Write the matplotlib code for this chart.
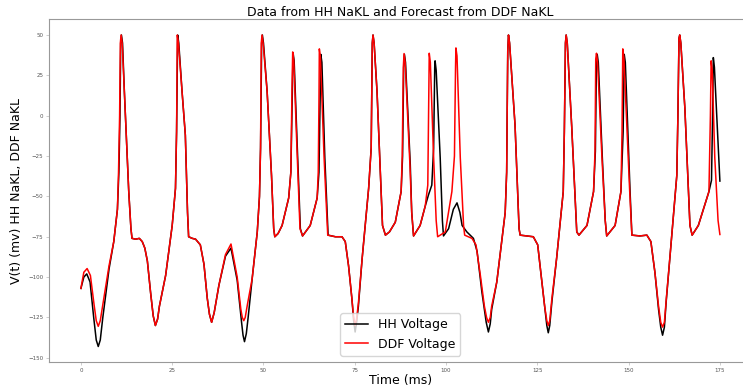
import matplotlib
matplotlib.use('Agg')
import matplotlib.pyplot as plt

# HH NaKL voltage (black)
hh_t = [0, 0.8, 1.6, 2.5, 3.5, 4.2, 4.75, 5.3, 6, 7.7, 9.0, 10.0, 10.4, 10.7, 10.9, 11.1, 11.4, 11.9,
        13.1, 13.7, 14.0, 15.0, 16.0, 16.8, 17.5, 18.2, 19.1, 19.8, 20.4, 21.0, 21.5, 23.2, 25.0, 25.9,
        26.2, 26.5, 26.8, 27.7, 28.6, 29.2, 29.5, 30.5, 31.4, 32.7, 33.7, 34.6, 35.2, 35.8, 36.5, 37.8,
        39.6, 41.1, 42.8, 44.0, 44.4, 44.8, 45.3, 45.8, 46.9, 48.3, 48.9, 49.2, 49.5, 49.7, 50.0, 51.0,
        52.2, 52.8, 53.1, 54.0, 55.1, 56.9, 57.5, 57.9, 58.1, 58.4, 59.2, 60.1, 60.7, 62.8,
        64.7, 65.2, 65.5, 65.7, 66.0, 66.8, 67.7, 69.7, 71.5, 72.4, 73.3, 74.2, 74.7, 75.1, 75.5, 76.0,
        77.0, 78.8, 79.5, 79.8, 80.0, 80.3, 81.1, 82.6, 83.4, 84.5, 86.1, 87.7, 88.1, 88.4,
        88.6, 88.9, 90.2, 90.6, 91.1, 92.9, 94.3, 95.2, 96.1, 96.6, 96.9, 97.0, 97.3, 98.4,
        99.0, 99.3, 100.7, 102.0, 103.0, 103.8, 104.4, 105.7, 107.5, 108.5, 109.8, 111.0, 111.6, 112.1,
        112.5, 113.9, 116.2, 116.6, 116.9, 117.1, 117.4, 118.9, 120.0, 120.3, 122.1, 123.9,
        125.1, 126.0, 127.0, 127.6, 128.0, 128.4, 129.0, 130.3, 132.1, 132.4, 132.7, 132.9, 133.2, 134.4,
        135.8, 136.4, 138.6, 140.4, 140.9, 141.2, 141.4, 141.7, 142.8, 143.6, 144.0, 146.3,
        147.9, 148.5, 148.8, 149.1, 150.4, 150.9, 153.1, 155.0, 156.1, 157.2, 158.2, 158.8, 159.3, 159.8,
        160.3, 161.3, 163.2, 163.5, 163.8, 164.0, 164.3, 165.4, 166.8, 167.4, 169.1, 170.9,
        172.0, 172.7, 173.0, 173.2, 173.5, 175.0]
hh_v = [-107, -100, -98, -103, -125, -139, -143, -139, -125, -95, -78, -58, -35, 0, 45, 50, 45, 15,
        -47, -70, -76, -76.5, -76, -78, -82, -90, -110, -124, -130, -126, -118, -99, -68, -45,
        -10, 50, 45, 15, -12, -60, -75, -76, -76.5, -80, -92, -113, -123, -128, -122, -105,
        -87, -82, -102, -128, -136, -140, -135, -125, -101, -72, -50, -20, 45, 50, 45, 15,
        -37, -70, -75, -73, -68, -51, -35, 15, 39, 34, -16, -70, -74.5, -68,
        -51, -35, 10, 38, 33, -26, -74, -75, -75, -78, -93, -113, -127, -134, -128, -118,
        -89, -45, -20, 45, 50, 45, 15, -68, -74, -72, -66, -47, -25, 30,
        38, 33, -30, -60, -74.5, -68, -56, -49, -43, -20, 30, 34, 28, -26,
        -65, -74.5, -70, -58, -54, -60, -68, -72, -76, -84, -109, -128, -134, -129,
        -120, -103, -60, -35, 40, 50, 45, -6, -70, -74, -74.5, -75,
        -80, -98, -118, -130, -134.5, -130, -115, -88, -47, -10, 45, 50, 45, -6,
        -72, -74, -68, -47, -22, 35, 38, 33, -26, -65, -74.5, -68,
        -47, -10, 38, 33, -47, -74, -74.5, -74, -78, -97, -120, -131, -136, -131,
        -115, -88, -37, 0, 48, 50, 45, 5, -68, -74, -68, -55,
        -47, -40, 0, 36, 30, -40.5]

# DDF NaKL forecast (red)
ddf_t = [0, 0.8, 1.7, 2.6, 3.6, 4.2, 4.75, 5.3, 6, 7.7, 9.0, 10.0, 10.3, 10.6, 10.8, 11.0, 11.3, 11.9,
         13.1, 13.7, 14.0, 15.0, 16.0, 16.8, 17.5, 18.2, 19.1, 19.8, 20.4, 21.0, 21.5, 23.2, 25.0, 25.9,
         26.2, 26.4, 26.7, 27.7, 28.6, 29.2, 29.5, 30.5, 31.4, 32.7, 33.7, 34.6, 35.2, 35.8, 36.5, 37.8,
         39.6, 41.1, 42.8, 43.8, 44.2, 44.6, 45.0, 45.6, 46.9, 48.3, 48.9, 49.2, 49.4, 49.6, 49.9, 51.0,
         52.2, 52.8, 53.1, 54.0, 55.1, 56.9, 57.5, 57.8, 58.0, 58.3, 59.1, 60.0, 60.7, 62.8,
         64.7, 65.0, 65.2, 65.3, 65.6, 66.6, 67.6, 69.7, 71.5, 72.4, 73.3, 74.2, 74.7, 75.1, 75.5, 76.0,
         77.0, 78.8, 79.5, 79.8, 80.0, 80.3, 81.1, 82.6, 83.4, 84.5, 86.1, 87.7, 88.0, 88.3,
         88.5, 88.8, 90.1, 90.6, 91.1, 92.9, 94.3, 95.0, 95.2, 95.4, 95.7, 96.6, 97.3, 97.7,
         99.8, 101.6, 102.3, 102.6, 102.7, 103.0, 103.9, 104.8, 105.1, 107.1, 108.2, 109.4,
         110.5, 111.1, 111.6, 112.1, 112.5, 113.9, 116.2, 116.6, 116.9, 117.1, 117.4, 118.9, 120.0, 120.3,
         122.1, 123.9, 125.1, 126.0, 127.0, 127.6, 128.0, 128.4, 129.0, 130.3, 132.1, 132.4, 132.7, 132.9,
         133.2, 134.4, 135.8, 136.4, 138.6, 140.4, 140.8, 141.0, 141.2, 141.5, 142.7, 143.6,
         144.0, 146.3, 147.9, 148.2, 148.4, 148.7, 150.3, 150.9, 153.1, 155.0, 156.1, 157.2,
         158.2, 158.8, 159.3, 159.8, 160.3, 161.3, 163.2, 163.5, 163.8, 164.0, 164.3, 165.4, 166.8, 167.4,
         169.1, 170.9, 172.0, 172.4, 172.6, 172.9, 173.6, 174.5, 175.0]
ddf_v = [-107, -97, -94.7, -99, -117, -127, -130.5, -127, -117, -93, -78, -58, -35, 0, 45, 50, 45, 15,
         -47, -70, -76, -76.5, -76, -78, -82, -90, -110, -124, -130, -126, -118, -99, -68, -45,
         -10, 50, 45, 15, -12, -60, -75, -76, -76.5, -80, -92, -113, -123, -128, -122, -105,
         -86, -79.5, -100, -120, -125, -127, -125, -117, -101, -72, -50, -20, 45, 50, 45, 15,
         -37, -70, -75, -73, -68, -51, -35, 15, 39.5, 34, -16, -70, -74.5, -68,
         -51, -35, 10, 41.4, 36, -26, -74, -75, -75, -78, -93, -113, -125, -130, -126, -116,
         -89, -45, -20, 45, 50, 45, 15, -68, -74, -72, -66, -47, -25, 30,
         38.5, 33, -30, -60, -74.5, -68, -56, -43, 0, 38.7, 33, -26, -65, -75,
         -72, -47, -25, 30, 42, 37, -26, -68, -74, -76, -80, -99,
         -118, -125, -128, -125, -118, -103, -60, -35, 40, 50, 45, -6, -70, -74,
         -74.5, -75, -80, -98, -118, -127, -130, -127, -113, -88, -47, -10, 45, 50,
         45, -6, -72, -74, -68, -47, -22, 35, 38.7, 33, -26, -65,
         -74.5, -68, -47, -10, 41.4, 36, -47, -74, -74.5, -74, -78, -97,
         -118, -128, -131, -128, -114, -88, -37, 0, 48, 50, 45, 5, -68, -74,
         -68, -55, -47, 0, 34, 28, -26, -65, -73.6]

x_ticks = [0, 25, 50, 75, 100, 125, 150, 175]
y_ticks = [-150, -125, -100, -75, -50, -25, 0, 25, 50]

fig = plt.figure(figsize=(7.43, 3.90), dpi=100)
ax = fig.add_axes([0.0659, 0.0718, 0.946, 0.879])

ax.plot(hh_t, hh_v, color='black', lw=1.1, label='HH Voltage')
ax.plot(ddf_t, ddf_v, color='red', lw=1.1, label='DDF Voltage')

ax.set_xticks(x_ticks)
ax.set_yticks(y_ticks)
ax.set_xlim(-8.75, 183.75)
ax.set_ylim(-152.6, 59.8)

for s in ax.spines.values():
    s.set_color('#999999')
    s.set_linewidth(0.8)
ax.tick_params(labelsize=4, length=2, width=0.5, color='#bbbbbb', labelcolor='#555555', pad=2)

ax.set_title('Data from HH NaKL and Forecast from DDF NaKL', fontsize=9, pad=2.5)
ax.set_xlabel('Time (ms)', fontsize=9, labelpad=1)
ax.set_ylabel('V(t) (mv) HH NaKL, DDF NaKL', fontsize=9, labelpad=4)
ax.legend(loc='lower center', fontsize=9, handlelength=1.8)

fig.savefig('out.png', dpi=100)
